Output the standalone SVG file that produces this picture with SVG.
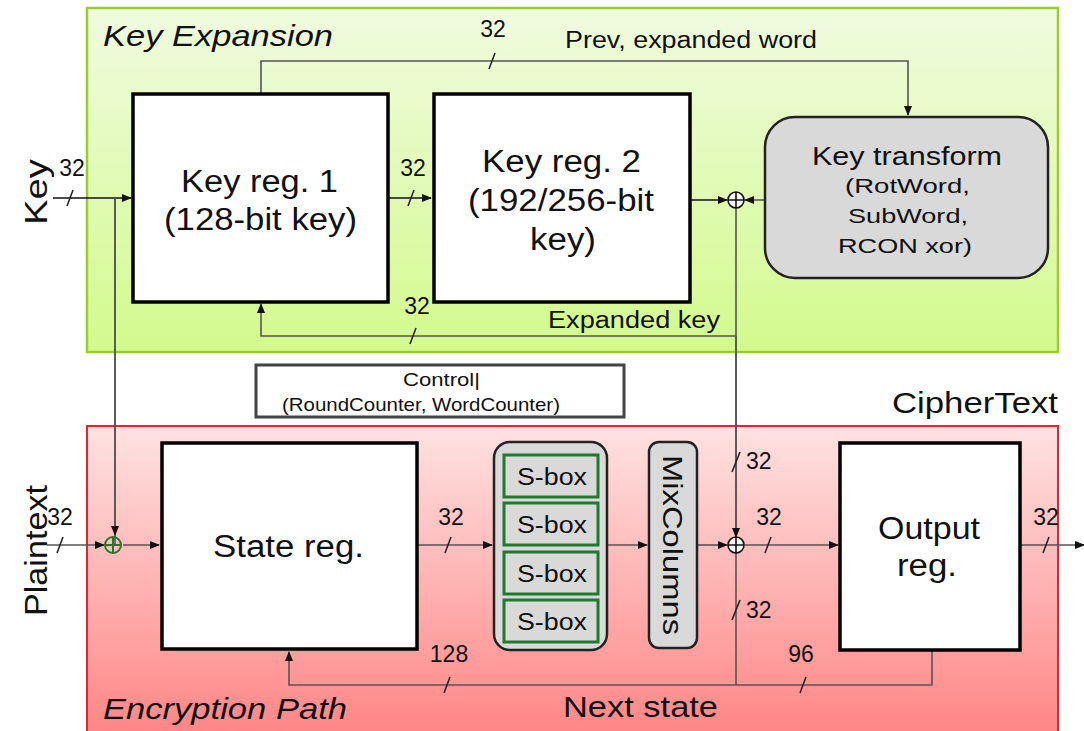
<svg xmlns="http://www.w3.org/2000/svg" width="1084" height="731" viewBox="0 0 1084 731">
<defs>
<linearGradient id="gg" x1="0" y1="0" x2="0" y2="1"><stop offset="0" stop-color="#f0fbe0"/><stop offset="1" stop-color="#d3fa8c"/></linearGradient>
<linearGradient id="rg" x1="0" y1="0" x2="0" y2="1"><stop offset="0" stop-color="#ffe2e2"/><stop offset="1" stop-color="#ff8585"/></linearGradient>
<marker id="ar" markerWidth="10" markerHeight="8" refX="9" refY="4" orient="auto" markerUnits="userSpaceOnUse"><path d="M0,0 L10,4 L0,8 Z" fill="#111"/></marker>
</defs>
<style>
text{font-family:"Liberation Sans",Arial,sans-serif;fill:#111}
.reg{fill:#fff;stroke:#000;stroke-width:3.5}
.gray{fill:#d9d9d9;stroke:#222;stroke-width:2.5}
.sb{fill:#d9d9d9;stroke:#1e7a2e;stroke-width:3}
.c{fill:none;stroke:#555;stroke-width:1.6}
.a{marker-end:url(#ar)}
.sl{stroke:#222;stroke-width:1.6}
.lab{font-size:23px}
.big{font-size:31px}
</style>
<g id="keyExpansion">
<rect x="87" y="8" width="971" height="344" fill="url(#gg)" stroke="#9ccc2c" stroke-width="2.5"/>
<text x="103" y="46" font-size="29" font-style="italic" textLength="230" lengthAdjust="spacingAndGlyphs">Key Expansion</text>
</g>
<g id="encryptionPath">
<rect x="87" y="426" width="971" height="310" fill="url(#rg)" stroke="#e8222e" stroke-width="2"/>
<text x="103" y="719" font-size="29" font-style="italic" textLength="244" lengthAdjust="spacingAndGlyphs">Encryption Path</text>
</g>
<g id="connectors">
<path class="c a" d="M53,198 H131" style="stroke:#111"/>
<path class="c" d="M115,198 V545"/>
<path class="c a" d="M115,198 V535"/>
<path class="c a" d="M261,94 V61 H908 V115"/>
<path class="c a" d="M388,198 H431" style="stroke:#111"/>
<path class="c a" d="M690,200 H727" style="stroke:#111"/>
<path class="c a" d="M765,200 H745"/>
<path class="c" d="M736,208 V685"/>
<path class="c a" d="M736,336 H261 V304"/>
<path class="c a" d="M736,336 V537"/>
<path class="c a" d="M47,545 H104"/>
<path class="c a" d="M123,545 H159"/>
<path class="c a" d="M417,545 H492"/>
<path class="c a" d="M607,545 H647"/>
<path class="c a" d="M697,545 H727"/>
<path class="c a" d="M745,545 H838"/>
<path class="c a" d="M1020,545 H1084"/>
<path class="c a" d="M932,650 V685 H289 V652"/>
<g class="sl">
<line x1="67" y1="206" x2="73" y2="190"/>
<line x1="408" y1="206" x2="414" y2="190"/>
<line x1="489" y1="69" x2="495" y2="53"/>
<line x1="410" y1="344" x2="416" y2="328"/>
<line x1="57" y1="553" x2="63" y2="537"/>
<line x1="445" y1="553" x2="451" y2="537"/>
<line x1="732" y1="472" x2="740" y2="452"/>
<line x1="732" y1="620" x2="740" y2="600"/>
<line x1="765" y1="553" x2="771" y2="537"/>
<line x1="1043" y1="553" x2="1049" y2="537"/>
<line x1="444" y1="693" x2="450" y2="677"/>
<line x1="800" y1="693" x2="806" y2="677"/>
</g>
<text x="72" y="176" class="lab" text-anchor="middle">32</text>
<text x="413" y="176" class="lab" text-anchor="middle">32</text>
<text x="493" y="37" class="lab" text-anchor="middle">32</text>
<text x="565" y="48" class="lab" textLength="252" lengthAdjust="spacingAndGlyphs">Prev, expanded word</text>
<text x="417" y="314" class="lab" text-anchor="middle">32</text>
<text x="548" y="328" class="lab" textLength="172" lengthAdjust="spacingAndGlyphs">Expanded key</text>
<text x="60" y="525" class="lab" text-anchor="middle">32</text>
<text x="451" y="525" class="lab" text-anchor="middle">32</text>
<text x="746" y="469" class="lab">32</text>
<text x="746" y="618" class="lab">32</text>
<text x="769" y="525" class="lab" text-anchor="middle">32</text>
<text x="1046" y="525" class="lab" text-anchor="middle">32</text>
<text x="449" y="662" class="lab" text-anchor="middle">128</text>
<text x="801" y="662" class="lab" text-anchor="middle">96</text>
<text x="563" y="717" font-size="30" textLength="155" lengthAdjust="spacingAndGlyphs">Next state</text>
</g>
<g id="keyLabel"><text transform="translate(47,225) rotate(-90)" font-size="32" textLength="66" lengthAdjust="spacingAndGlyphs">Key</text></g>
<g id="plaintextLabel"><text transform="translate(47,616) rotate(-90)" font-size="32" textLength="131" lengthAdjust="spacingAndGlyphs">Plaintext</text></g>
<g id="cipherTextLabel"><text x="892" y="413" font-size="29" textLength="166" lengthAdjust="spacingAndGlyphs">CipherText</text></g>
<g id="keyReg1">
<rect class="reg" x="133" y="94" width="255" height="208"/>
<text x="181" y="192" class="big" textLength="157" lengthAdjust="spacingAndGlyphs">Key reg. 1</text>
<text x="164" y="230" class="big" textLength="193" lengthAdjust="spacingAndGlyphs">(128-bit key)</text>
</g>
<g id="keyReg2">
<rect class="reg" x="434" y="94" width="256" height="208"/>
<text x="482" y="172" class="big" textLength="159" lengthAdjust="spacingAndGlyphs">Key reg. 2</text>
<text x="468" y="211" class="big" textLength="186" lengthAdjust="spacingAndGlyphs">(192/256-bit</text>
<text x="530" y="250" class="big" textLength="66" lengthAdjust="spacingAndGlyphs">key)</text>
</g>
<g id="keyTransform">
<rect class="gray" x="765" y="117" width="283" height="161" rx="30"/>
<text x="812" y="165" font-size="26" textLength="190" lengthAdjust="spacingAndGlyphs">Key transform</text>
<text x="845" y="193" font-size="21" textLength="125" lengthAdjust="spacingAndGlyphs">(RotWord,</text>
<text x="848" y="223" font-size="21" textLength="120" lengthAdjust="spacingAndGlyphs">SubWord,</text>
<text x="838" y="253" font-size="21" textLength="134" lengthAdjust="spacingAndGlyphs">RCON xor)</text>
</g>
<g id="xorKey">
<circle cx="736" cy="200" r="8" fill="#fff" stroke="#111" stroke-width="1.6"/>
<path d="M728,200 H744 M736,192 V208" stroke="#111" stroke-width="1.6"/>
</g>
<g id="control">
<rect x="256" y="365" width="368" height="52" fill="#fff" stroke="#444" stroke-width="3"/>
<text x="403" y="386" font-size="19" textLength="77" lengthAdjust="spacingAndGlyphs">Control|</text>
<text x="282" y="411" font-size="19" textLength="278" lengthAdjust="spacingAndGlyphs">(RoundCounter, WordCounter)</text>
</g>
<g id="xorPlain">
<circle cx="113" cy="545" r="8" fill="none" stroke="#1e7a2e" stroke-width="2"/>
<path d="M105,545 H121 M113,537 V553" stroke="#1e7a2e" stroke-width="2"/>
</g>
<g id="stateReg">
<rect class="reg" x="162" y="443" width="255" height="206"/>
<text x="213" y="557" class="big" textLength="151" lengthAdjust="spacingAndGlyphs">State reg.</text>
</g>
<g id="sboxes">
<rect class="gray" x="494" y="442" width="113" height="208" rx="16"/>
<rect class="sb" x="504" y="455" width="94" height="42"/>
<rect class="sb" x="504" y="503" width="94" height="42"/>
<rect class="sb" x="504" y="552" width="94" height="42"/>
<rect class="sb" x="504" y="600" width="94" height="42"/>
<text x="517" y="485" font-size="23" textLength="70" lengthAdjust="spacingAndGlyphs">S-box</text>
<text x="517" y="533" font-size="23" textLength="70" lengthAdjust="spacingAndGlyphs">S-box</text>
<text x="517" y="582" font-size="23" textLength="70" lengthAdjust="spacingAndGlyphs">S-box</text>
<text x="517" y="630" font-size="23" textLength="70" lengthAdjust="spacingAndGlyphs">S-box</text>
</g>
<g id="mixColumns">
<rect class="gray" x="649" y="442" width="48" height="206" rx="10"/>
<text transform="translate(663,455) rotate(90)" font-size="28" textLength="180" lengthAdjust="spacingAndGlyphs">MixColumns</text>
</g>
<g id="xorState">
<circle cx="736" cy="545" r="8" fill="#fff" stroke="#111" stroke-width="1.6"/>
<path d="M728,545 H744 M736,537 V553" stroke="#111" stroke-width="1.6"/>
</g>
<g id="outputReg">
<rect class="reg" x="840" y="443" width="180" height="207"/>
<text x="878" y="539" class="big" textLength="102" lengthAdjust="spacingAndGlyphs">Output</text>
<text x="897" y="576" class="big" textLength="60" lengthAdjust="spacingAndGlyphs">reg.</text>
</g>
</svg>
